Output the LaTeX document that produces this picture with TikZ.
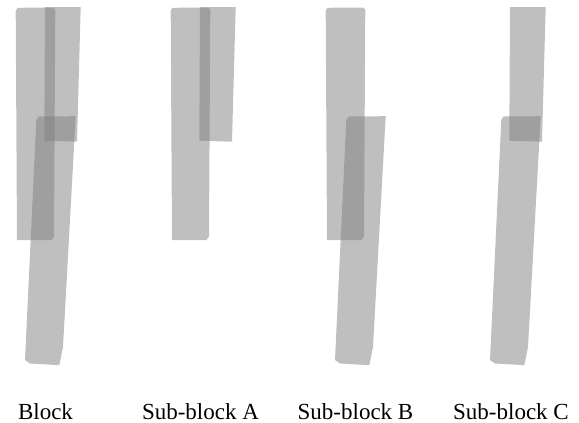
\documentclass[tikz,border=0pt]{standalone}
\usepackage{fontspec}
\setmainfont{Liberation Serif}
\begin{document}
\begin{tikzpicture}[x=1pt,y=-1pt,
  piece/.style={fill=gray,fill opacity=0.5,draw=none},
  lbl/.style={anchor=base,inner sep=0pt,font=\fontsize{23}{27}\selectfont}]
\useasboundingbox (0,0) rectangle (579,423);
\def\tallpiece#1{\fill[piece,shift={(#1,0)}] (15.7,11) -- (17.5,7.8) -- (53,7.5) -- (55.3,9.5) -- (54,236.5) -- (51.5,240) -- (17,240) -- cycle;}
\def\toppiece#1{\fill[piece,shift={(#1,0)}] (45,7) -- (80.7,7) -- (77,141.7) -- (44.3,140.7) -- cycle;}
\def\lowpiece#1{\fill[piece,shift={(#1,0)}] (36.3,120) -- (38.5,116.5) -- (75.7,116.2) -- (63,347) -- (59.3,365.2) -- (30,363.5) -- (25,360) -- cycle;}
% Block
\tallpiece{0}\toppiece{0}\lowpiece{0}
% Sub-block A
\tallpiece{155}\toppiece{155}
% Sub-block B
\tallpiece{310}\lowpiece{310}
% Sub-block C
\toppiece{465}\lowpiece{465}
\node[lbl] (l1) at (45.5,419.3) {Block};
\node[lbl] (l2) at (200.5,419.3) {Sub-block A};
\node[lbl] (l3) at (355.5,419.3) {Sub-block B};
\node[lbl] (l4) at (511,419.3) {Sub-block C};
\end{tikzpicture}
\end{document}
